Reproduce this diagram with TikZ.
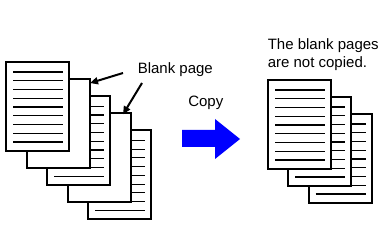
\documentclass[tikz,border=0pt]{standalone}
\usepackage{fontspec}
\setmainfont{Liberation Sans}
\usetikzlibrary{arrows.meta, positioning}

\begin{document}
\begin{tikzpicture}[
    x=1pt, y=-1pt, semithick,
    font=\fontsize{15}{18}\selectfont,
    page/.style={draw, fill=white, line width=2pt, inner sep=0pt,
        minimum width=63pt, minimum height=89pt},
    textline/.style={line width=1.2pt},
    pointer/.style={line width=2pt, -{Triangle[length=8pt, width=7pt]}},
    label/.style={anchor=base west, inner sep=0pt}]

    \useasboundingbox (0,0) rectangle (383,232);

    % Define original pages (back to front), blank ones have no text lines
    \foreach \n/\lined in {5/1, 4/0, 3/1, 2/0, 1/1} {
        \node[page] (p\n) at ({37.5+20.5*(\n-1)}, {106.5+17.1*(\n-1)}) {};
        \ifnum\lined=1
            \foreach \i in {0,...,8}
                \draw[textline] ([shift={(-24.5,-34.5+8.75*\i)}]p\n.center) -- ++(50,0);
        \fi
    }

    % Define copied pages
    \foreach \n in {3, 2, 1} {
        \node[page] (c\n) at ({299.5+20.3*(\n-1)}, {124.5+17*(\n-1)}) {};
        \foreach \i in {0,...,8}
            \draw[textline] ([shift={(-24.5,-34.5+8.75*\i)}]c\n.center) -- ++(50,0);
    }

    % Labels
    \node[label] (blank) at (137.5,74) {Blank page};
    \node[label] (copy) at (188,107) {Copy};
    \node[label, anchor=north west, align=left] (note) at (267.5,38.5)
        {The blank pages\\are not copied.};

    % Pointers to the blank pages
    \coordinate (b1) at ([shift={(-14.5,-1)}]blank.base west);
    \coordinate (b2) at ([shift={(4.5,9)}]blank.base west);
    \draw[pointer] (b1) -- ([shift={(-0.5,5)}]p2.north east);
    \draw[pointer] (b2) -- ([shift={(-8.5,2)}]p4.north east);

    % Copy arrow
    \fill[blue] (182,130) -- (215,130) -- (215,119) -- (240,139)
        -- (215,159) -- (215,147) -- (182,147) -- cycle;
\end{tikzpicture}
\end{document}
